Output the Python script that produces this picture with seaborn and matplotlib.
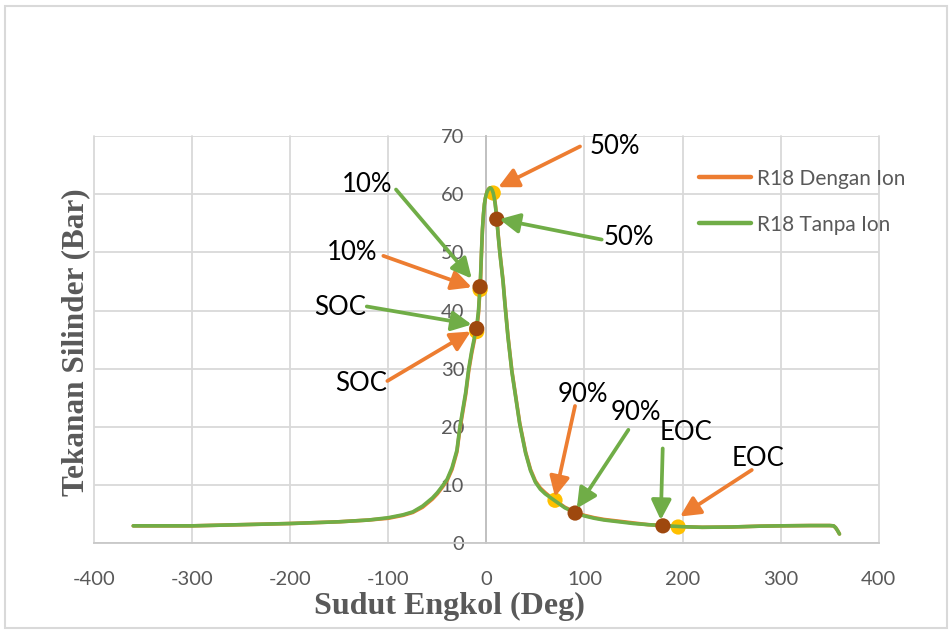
import matplotlib
matplotlib.use("Agg")
import matplotlib.pyplot as plt
import seaborn as sns
import pandas as pd
from matplotlib.lines import Line2D
from matplotlib.patches import Rectangle

# ---------------- data ----------------
deg = [-360, -300, -250, -200, -150, -120, -100, -85, -75, -65, -55, -50, -45, -40,
       -35, -30, -27, -24, -21, -18, -15, -12, -10, -8, -6, -5, -4, -3, -2, -1, 0,
       1, 2, 3, 4, 5, 6, 7, 8, 9, 10, 11, 12, 13, 14, 15, 17, 19, 22, 26, 30, 34,
       40, 45, 50, 55, 60, 65, 70, 80, 90, 100, 110, 120, 135, 150, 165, 180, 200,
       220, 250, 280, 300, 330, 350, 354, 356, 358, 360]

tanpa_ion = [3.0, 3.0, 3.2, 3.4, 3.7, 4.0, 4.4, 4.9, 5.4, 6.4, 7.8, 8.7, 9.8, 11.0,
             13.0, 16.0, 20.0, 23.0, 26.0, 30.0, 33.0, 35.5, 37.0, 40.0, 45.5, 50.0,
             54.0, 56.5, 58.3, 59.3, 60.0,
             60.5, 60.8, 61.0, 61.1, 61.0, 60.7, 60.2, 59.4, 58.3, 56.8, 55.0, 53.0,
             51.2, 49.5, 48.0, 45.0, 41.0, 35.5, 29.5, 25.0, 20.5,
             15.5, 12.5, 10.5, 9.3, 8.5, 7.9, 7.3, 6.1, 5.3, 4.7, 4.3, 4.0, 3.7, 3.4,
             3.2, 3.05, 2.85, 2.75, 2.8, 2.95, 3.0, 3.05, 3.05, 3.0, 2.7, 2.2, 1.6]

dengan_ion = [3.0, 3.0, 3.2, 3.4, 3.7, 4.0, 4.3, 4.8, 5.3, 6.2, 7.6, 8.5, 9.6, 10.8,
              12.7, 15.7, 19.6, 22.6, 25.6, 29.6, 32.6, 35.1, 36.5, 39.5, 45.0, 49.6,
              53.7, 56.3, 58.2, 59.3, 60.0,
              60.5, 60.8, 61.0, 61.1, 61.0, 60.8, 60.3, 59.6, 58.5, 57.0, 55.2, 53.2,
              51.4, 49.7, 48.2, 45.2, 41.2, 35.7, 29.7, 25.2, 20.7,
              15.7, 12.7, 10.7, 9.5, 8.7, 8.0, 7.4, 6.2, 5.4, 4.8, 4.4, 4.1, 3.8, 3.5,
              3.2, 3.05, 2.85, 2.75, 2.8, 2.95, 3.0, 3.05, 3.05, 3.0, 2.7, 2.2, 1.6]

point_labels = ["SOC", "10%", "50%", "90%", "EOC"]

# marked points
dengan_pts_x = [-9.8, -6.4, 7.0, 70.0, 195.6]
dengan_pts_y = [36.4, 43.6, 60.2, 7.4, 2.8]
tanpa_pts_x = [-9.8, -6.4, 10.6, 90.5, 180.0]
tanpa_pts_y = [36.9, 44.1, 55.7, 5.2, 3.0]

# annotation text positions, arrow tails and arrow heads (data units)
dengan_text_x = [-127.7, -136.4, 131.2, 98.1, 276.5]
dengan_text_y = [27.4, 49.9, 68.2, 25.6, 14.5]
dengan_tail_x = [-100.9, -105.0, 95.5, 90.4, 270.6]
dengan_tail_y = [27.9, 49.4, 68.2, 23.6, 12.6]
dengan_head_x = [-15.9, -14.9, 12.2, 70.0, 197.5]
dengan_head_y = [36.4, 44.0, 61.2, 8.0, 4.6]

tanpa_text_x = [-149.1, -121.9, 145.5, 152.6, 203.1]
tanpa_text_y = [40.5, 61.6, 52.6, 22.5, 19.0]
tanpa_tail_x = [-121.9, -92.1, 117.6, 144.8, 179.8]
tanpa_tail_y = [40.7, 60.8, 52.2, 19.5, 16.3]
tanpa_head_x = [-14.9, -14.9, 13.3, 92.2, 177.8]
tanpa_head_y = [37.6, 45.5, 55.7, 6.0, 4.0]

x_ticks = [-400, -300, -200, -100, 0, 100, 200, 300, 400]
y_ticks = [0, 10, 20, 30, 40, 50, 60, 70]

series_names = ["R18 Dengan Ion", "R18 Tanpa Ion"]

# ---------------- style ----------------
ORANGE = "#ED7D31"
GREEN = "#70AD47"
YELLOW = "#FFC000"
BROWN = "#9E480E"
GRID = "#d9d9d9"
TXT = "#595959"

sns.set_theme(style="white")
plt.rcParams["font.family"] = ["Lato", "DejaVu Sans"]

W, H = 949, 630
fig = plt.figure(figsize=(W / 100, H / 100), dpi=100)
x0, x1, ytop, ybot = 94, 878.7, 136, 543.3
ax = fig.add_axes([x0 / W, 1 - ybot / H, (x1 - x0) / W, (ybot - ytop) / H])

df = pd.concat([
    pd.DataFrame({"deg": deg, "P": dengan_ion, "Seri": series_names[0]}),
    pd.DataFrame({"deg": deg, "P": tanpa_ion, "Seri": series_names[1]}),
])
sns.lineplot(data=df, x="deg", y="P", hue="Seri", palette=[ORANGE, GREEN],
             linewidth=2.6, sort=False, estimator=None, ax=ax, legend=False)
ax.lines[0].set_zorder(3)
ax.lines[1].set_zorder(5)
for ln in ax.lines[:2]:
    ln.set_solid_capstyle("round")

sns.scatterplot(x=dengan_pts_x, y=dengan_pts_y, color=YELLOW, s=120,
                edgecolor="none", ax=ax, zorder=4, legend=False)
sns.scatterplot(x=tanpa_pts_x, y=tanpa_pts_y, color=BROWN, s=120,
                edgecolor="none", ax=ax, zorder=6, legend=False)

arrow_kw = dict(arrowstyle="-|>,head_length=0.6,head_width=0.3", lw=2.7,
                shrinkA=0, shrinkB=0, mutation_scale=20)
for i, lab in enumerate(point_labels):
    ax.annotate("", xy=(dengan_head_x[i], dengan_head_y[i]),
                xytext=(dengan_tail_x[i], dengan_tail_y[i]),
                arrowprops=dict(color=ORANGE, **arrow_kw), zorder=7,
                annotation_clip=False)
    ax.text(dengan_text_x[i], dengan_text_y[i], lab, ha="center", va="center",
            fontsize=18.5, color="black", zorder=8)
    ax.annotate("", xy=(tanpa_head_x[i], tanpa_head_y[i]),
                xytext=(tanpa_tail_x[i], tanpa_tail_y[i]),
                arrowprops=dict(color=GREEN, **arrow_kw), zorder=7,
                annotation_clip=False)
    ax.text(tanpa_text_x[i], tanpa_text_y[i], lab, ha="center", va="center",
            fontsize=18.5, color="black", zorder=8)

ax.set_xlim(-400, 400)
ax.set_ylim(0, 70)
ax.set_xticks(x_ticks)
ax.set_yticks(y_ticks)
ax.set_xticklabels([str(v) for v in x_ticks])
ax.set_yticklabels([str(v) for v in y_ticks])
ax.tick_params(axis="x", length=0, pad=20, labelsize=14.5, labelcolor=TXT)
ax.tick_params(axis="y", length=0, pad=16, labelsize=14.5, labelcolor=TXT)
ax.set_xlabel("")
ax.set_ylabel("")

ax.grid(True, color=GRID, lw=1.3)
ax.set_axisbelow(True)
for gl in ax.get_xgridlines() + ax.get_ygridlines():
    gl.set_clip_on(False)
ax.spines["left"].set_position(("data", 0))
ax.spines["left"].set_color("#bfbfbf")
ax.spines["left"].set_linewidth(1.3)
ax.spines["bottom"].set_color("#c8c8c8")
ax.spines["bottom"].set_linewidth(1.3)
ax.spines["top"].set_visible(False)
ax.spines["right"].set_visible(False)

handles = [Line2D([0], [0], color=ORANGE, lw=3.2, solid_capstyle="round"),
           Line2D([0], [0], color=GREEN, lw=3.2, solid_capstyle="round")]
leg = ax.legend(handles, series_names, loc="upper left",
                bbox_to_anchor=(0.771, 0.92), frameon=False, fontsize=15,
                handlelength=2.5, handletextpad=0.3, labelspacing=1.25,
                borderpad=0, borderaxespad=0)
for t in leg.get_texts():
    t.set_color(TXT)

serif = ["Liberation Serif", "DejaVu Serif"]
fig.text(449 / W, 1 - 606 / H, "Sudut Engkol (Deg)", ha="center", va="center",
         family=serif, weight="bold", fontsize=23, color=TXT)
fig.text(76 / W, 1 - 342.5 / H, "Tekanan Silinder (Bar)", ha="center", va="center",
         rotation=90, family=serif, weight="bold", fontsize=22.5, color=TXT)

fig.patches.append(Rectangle((5 / W, 2 / H), 942 / W, 622 / H, fill=False,
                             edgecolor=GRID, lw=1.5, transform=fig.transFigure,
                             figure=fig))

fig.savefig("out.png", dpi=100, facecolor="white")
